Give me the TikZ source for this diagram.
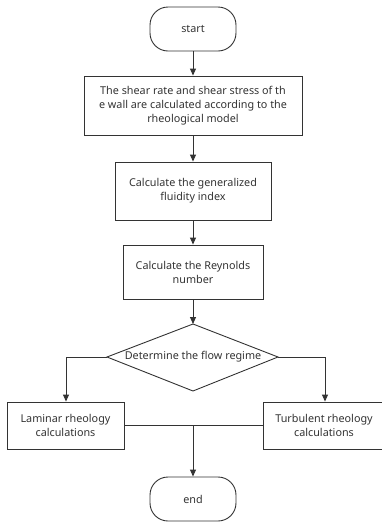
\documentclass[tikz,border=0pt]{standalone}
\usepackage{fontspec}
\setmainfont{Noto Sans}
\usetikzlibrary{arrows.meta,shapes.geometric}
\definecolor{ln}{HTML}{333333}
\definecolor{tx}{HTML}{333333}
\begin{document}
\begin{tikzpicture}[x=1pt,y=-1pt,
  every node/.style={text=tx,font=\fontsize{10.8}{14}\selectfont,align=center,inner sep=0pt},
  term/.style={draw=ln,line width=0.9pt,rounded corners=18pt,minimum width=86pt,minimum height=44pt},
  proc/.style={draw=ln,line width=0.9pt},
  conn/.style={draw=ln,line width=0.9pt},
  arr/.style={conn,-{Triangle[length=7pt,width=6pt]}}]
\useasboundingbox (0,0) rectangle (382,523);
\node[term] (start) at (193,29) {start};
\node[proc,minimum width=218pt,minimum height=59pt] (b1) at (193,105.5) {The shear rate and shear stress of th\\e wall are calculated according to the\\rheological model};
\node[proc,minimum width=156pt,minimum height=58pt] (b2) at (193,191) {Calculate the generalized\\fluidity index};
\node[proc,minimum width=140pt,minimum height=54pt] (b3) at (193,272) {Calculate the Reynolds\\number};
\draw[conn] (107,357) coordinate (dl) -- (193,324) coordinate (dt) -- (278,357) coordinate (dr) -- (193,391) coordinate (db) -- cycle;
\node (dtext) at (193,357) {Determine the flow regime};
\node[proc,minimum width=117pt,minimum height=47pt] (lam) at (65.5,425.5) {Laminar rheology\\calculations};
\node[proc,minimum width=122pt,minimum height=47pt] (tur) at (324,425.5) {Turbulent rheology\\calculations};
\node[term] (end) at (193,499) {end};
\coordinate (ml) at (66,357);
\coordinate (mr) at (325,357);
\coordinate (mid) at (193,425.5);
\draw[arr] (start) -- (b1);
\draw[arr] (b1) -- (b2);
\draw[arr] (b2) -- (b3);
\draw[arr] (b3) -- (dt);
\draw[arr] (dl) -- (ml) -- (lam.north -| ml);
\draw[arr] (dr) -- (mr) -- (tur.north -| mr);
\draw[conn] (lam.east) -- (tur.west);
\draw[arr] (mid) -- (end);
\end{tikzpicture}
\end{document}
